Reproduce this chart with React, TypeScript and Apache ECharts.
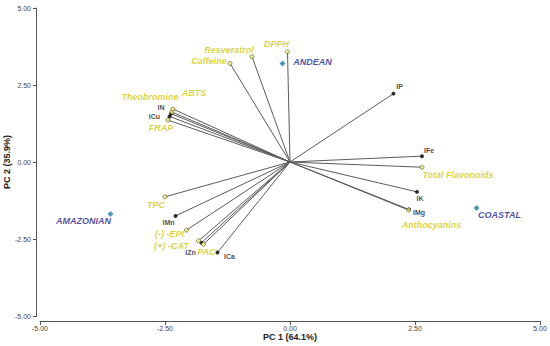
import React, { useEffect, useRef } from "react";
import * as echarts from "echarts";

// Bioactive compounds (loadings)
const compounds = ["DPPH", "Resveratrol", "Caffeine", "Theobromine", "ABTS", "FRAP", "TPC", "(-) -EPI", "(+) -CAT", "PAC", "Total Flavonoids", "Anthocyanins"];
const compoundPC1 = [-0.05, -0.76, -1.2, -2.36, -2.34, -2.44, -2.5, -2.07, -1.83, -1.73, 2.64, 2.37];
const compoundPC2 = [3.58, 3.42, 3.2, 1.62, 1.72, 1.36, -1.13, -2.21, -2.56, -2.67, -0.17, -1.56];

// Minerals (loadings)
const minerals = ["IN", "ICu", "IP", "IFe", "IK", "IMg", "IMn", "IZn", "ICa"];
const mineralPC1 = [-2.38, -2.41, 2.07, 2.64, 2.54, 2.38, -2.29, -1.77, -1.45];
const mineralPC2 = [1.57, 1.48, 2.22, 0.19, -0.97, -1.54, -1.75, -2.62, -2.94];

// Regions (scores)
const regions = ["ANDEAN", "COASTAL", "AMAZONIAN"];
const regionPC1 = [-0.15, 3.73, -3.59];
const regionPC2 = [3.2, -1.49, -1.69];

const axisTicks = [-5, -2.5, 0, 2.5, 5];
const xTitle = "PC 1 (64.1%)";
const yTitle = "PC 2 (35.9%)";

// label placement (pixel offsets of label centre from marker)
const labelOffset: Record<string, [number, number]> = {
  DPPH: [-11, -8],
  Resveratrol: [-23, -7],
  Caffeine: [-21, -2],
  Theobromine: [-22, -15],
  ABTS: [21, -16],
  FRAP: [-7, 8],
  TPC: [-9, 8],
  "(-) -EPI": [-17, 4],
  "(+) -CAT": [-27, 5],
  PAC: [3, 8],
  "Total Flavonoids": [36, 8],
  Anthocyanins: [23, 15],
  IN: [-10, -6],
  ICu: [-15, 0],
  IP: [6, -7],
  IFe: [7, -6],
  IK: [3, 7],
  IMg: [10, 3],
  IMn: [-7, 7],
  IZn: [-11, 10],
  ICa: [12, 4],
  ANDEAN: [30, -1],
  COASTAL: [23, 7],
  AMAZONIAN: [-27, 7],
};

const FONT = "'Liberation Sans', Arial, sans-serif";
const AXIS_COLOR = "#555555";
const X_OFFSET = 5;
const Y_OFFSET = 4;
const TICK_LEN = 3;
const GRID = { left: 40, right: 10, top: 8, bottom: 30 };
const W = 550;
const H = 346;

export default function App() {
  const ref = useRef<HTMLDivElement>(null);
  useEffect(() => {
    if (!ref.current) return;
    const chart = echarts.init(ref.current, undefined, { renderer: "svg" });

    const mk = (names: string[], xs: number[], ys: number[]) =>
      names.map((n, i) => ({
        name: n,
        value: [xs[i], ys[i]],
        label: { offset: labelOffset[n] || [0, 0] },
      }));

    const lineData = [
      ...compounds.map((n, i) => ({ coords: [[0, 0], [compoundPC1[i], compoundPC2[i]]] })),
      ...minerals.map((n, i) => ({ coords: [[0, 0], [mineralPC1[i], mineralPC2[i]]] })),
    ];

    const baseLabel = {
      show: true,
      position: "inside",
      align: "center",
      verticalAlign: "middle",
      formatter: "{b}",
      fontFamily: FONT,
      textBorderWidth: 0,
    };

    const axisCommon = {
      type: "value",
      min: -5,
      max: 5,
      interval: 2.5,
      nameLocation: "middle",
      nameMoveOverlap: false,
      nameTextStyle: { fontFamily: FONT, fontSize: 9, fontWeight: "bold", color: "#222" },
      axisLine: { show: true, onZero: false, lineStyle: { color: AXIS_COLOR, width: 1 } },
      axisTick: { show: true, inside: false, length: TICK_LEN, lineStyle: { color: AXIS_COLOR, width: 1 } },
      splitLine: { show: false },
    };

    chart.setOption({
      animation: false,
      backgroundColor: "#ffffff",
      grid: { ...GRID, outerBoundsMode: "none", containLabel: false },
      xAxis: {
        ...axisCommon,
        offset: X_OFFSET,
        name: xTitle,
        nameGap: 11,
        axisLabel: {
          fontFamily: FONT,
          fontSize: 7,
          color: "#444",
          margin: 4,
          formatter: (v: number) => (axisTicks.includes(v) ? v.toFixed(2) : ""),
        },
      },
      yAxis: {
        ...axisCommon,
        offset: Y_OFFSET,
        name: yTitle,
        nameGap: 25,
        nameRotate: 90,
        axisLabel: {
          fontFamily: FONT,
          fontSize: 7,
          color: "#444",
          margin: 5,
          formatter: (v: number) => (axisTicks.includes(v) ? v.toFixed(2) : ""),
        },
      },
      series: [
        {
          type: "lines",
          coordinateSystem: "cartesian2d",
          data: lineData,
          symbol: "none",
          clip: false,
          lineStyle: { color: "#5c5c5c", width: 1, opacity: 1 },
          z: 1,
          silent: true,
        },
        {
          type: "scatter",
          name: "minerals",
          data: mk(minerals, mineralPC1, mineralPC2),
          symbol: "circle",
          symbolSize: 4,
          clip: false,
          itemStyle: { color: "#000000" },
          label: { ...baseLabel, fontSize: 7, fontWeight: "bold", color: "#1a1a1a" },
          z: 3,
        },
        {
          type: "scatter",
          name: "compounds",
          data: mk(compounds, compoundPC1, compoundPC2),
          symbol: "circle",
          symbolSize: 4,
          clip: false,
          itemStyle: { color: "#f7f39a", borderColor: "#5a5200", borderWidth: 0.8 },
          label: { ...baseLabel, fontSize: 9, fontWeight: "bold", fontStyle: "italic", color: "#d4c90c" },
          z: 4,
        },
        {
          type: "scatter",
          name: "regions",
          data: mk(regions, regionPC1, regionPC2),
          symbol: "diamond",
          symbolSize: 6,
          clip: false,
          itemStyle: { color: "#1f7fa6" },
          label: { ...baseLabel, fontSize: 9, fontWeight: "bold", fontStyle: "italic", color: "#1e1e8a" },
          z: 4,
        },
      ],
    });

    // Backup: offset axis lines and ticks as thin rects, placed through the chart's own scales
    const toPx = (x: number, y: number): [number, number] => {
      const p = chart.convertToPixel({ gridIndex: 0 }, [x, y]) as any;
      const fx = GRID.left + ((x + 5) / 10) * (W - GRID.left - GRID.right);
      const fy = GRID.top + ((5 - y) / 10) * (H - GRID.top - GRID.bottom);
      if (Array.isArray(p) && isFinite(p[0]) && isFinite(p[1])) return [p[0], p[1]];
      return [fx, fy];
    };
    const [xl, yb] = toPx(-5, -5);
    const [xr, yt] = toPx(5, 5);
    const ax = Math.round(xl - Y_OFFSET);
    const ay = Math.round(yb + X_OFFSET);
    const fill = { fill: AXIS_COLOR };
    const elems: any[] = [
      { type: "rect", z: 100, silent: true, shape: { x: ax, y: Math.round(yt), width: 1, height: Math.round(yb - yt) + 1 }, style: fill },
      { type: "rect", z: 100, silent: true, shape: { x: Math.round(xl), y: ay, width: Math.round(xr - xl) + 1, height: 1 }, style: fill },
    ];
    axisTicks.forEach((t) => {
      const [tx, ty] = toPx(t, t);
      elems.push({ type: "rect", z: 100, silent: true, shape: { x: ax - TICK_LEN, y: Math.round(ty), width: TICK_LEN, height: 1 }, style: fill });
      elems.push({ type: "rect", z: 100, silent: true, shape: { x: Math.round(tx), y: ay + 1, width: 1, height: TICK_LEN }, style: fill });
    });
    chart.setOption({ graphic: elems });

    return () => chart.dispose();
  }, []);

  return (
    <div
      ref={ref}
      style={{ position: "fixed", left: 0, top: 0, width: W, height: H, background: "#fff" }}
    />
  );
}
